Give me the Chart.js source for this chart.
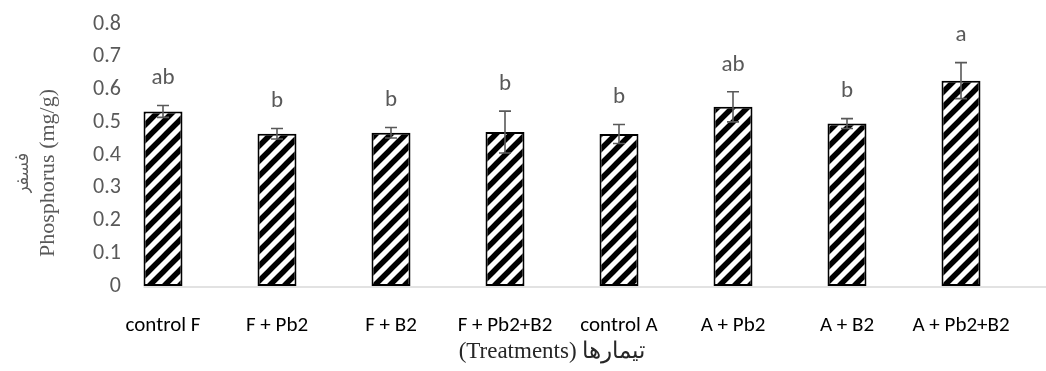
<!DOCTYPE html>
<html>
<head>
<meta charset="utf-8">
<script src="https://cdn.jsdelivr.net/npm/chart.js@4"></script>
<style>
html,body{margin:0;padding:0;background:#fff;}
#c{display:block;}
</style>
</head>
<body>
<canvas id="c" width="1046" height="371"></canvas>
<script>
const categories = ['control F', 'F + Pb2', 'F + B2', 'F + Pb2+B2', 'control A', 'A + Pb2', 'A + B2', 'A + Pb2+B2'];
const phosphorus = [0.533, 0.465, 0.468, 0.470, 0.464, 0.547, 0.496, 0.627];
const errors = [0.018, 0.016, 0.016, 0.064, 0.029, 0.046, 0.015, 0.055];
const letters = ['ab', 'b', 'b', 'b', 'b', 'ab', 'b', 'a'];
const yTickLabels = ['0', '0.1', '0.2', '0.3', '0.4', '0.5', '0.6', '0.7', '0.8'];
const yTitle = 'Phosphorus (mg/g)';
const yTitleFa = 'فسفر';
const xTitle = '(Treatments) تیمارها';

const SANS = 'Carlito, Calibri, Lato, sans-serif';
const SERIF = '"Liberation Serif", "Times New Roman", serif';

function makePattern() {
  const s = 15;
  const t = document.createElement('canvas');
  t.width = s; t.height = s;
  const g = t.getContext('2d');
  g.fillStyle = '#fff';
  g.fillRect(0, 0, s, s);
  g.strokeStyle = '#000';
  g.lineWidth = 5.5;
  g.lineCap = 'square';
  g.beginPath();
  g.moveTo(-s, 2 * s); g.lineTo(2 * s, -s);
  g.moveTo(-s, s); g.lineTo(s, -s);
  g.moveTo(0, 2 * s); g.lineTo(2 * s, 0);
  g.stroke();
  return document.getElementById('c').getContext('2d').createPattern(t, 'repeat');
}

const extras = {
  id: 'extras',
  afterDatasetsDraw(chart) {
    const ctx = chart.ctx;
    const ys = chart.scales.y;
    const meta = chart.getDatasetMeta(0);
    const area = chart.chartArea;
    ctx.save();
    // x axis line
    const first = meta.data[0];
    ctx.strokeStyle = '#d9d9d9';
    ctx.lineWidth = 1.5;
    ctx.beginPath();
    ctx.moveTo(first.x - first.width / 2, area.bottom + 1);
    ctx.lineTo(chart.width, area.bottom + 1);
    ctx.stroke();
    // error bars and letters
    meta.data.forEach((bar, i) => {
      const v = phosphorus[i], e = errors[i];
      const yTop = ys.getPixelForValue(v + e);
      const yBot = ys.getPixelForValue(v - e);
      ctx.strokeStyle = '#595959';
      ctx.lineWidth = 1.6;
      ctx.beginPath();
      ctx.moveTo(bar.x, yTop); ctx.lineTo(bar.x, yBot);
      ctx.moveTo(bar.x - 6, yTop); ctx.lineTo(bar.x + 6, yTop);
      ctx.moveTo(bar.x - 6, yBot); ctx.lineTo(bar.x + 6, yBot);
      ctx.stroke();
      ctx.fillStyle = '#595959';
      ctx.font = '23px ' + SANS;
      ctx.textAlign = 'center';
      ctx.textBaseline = 'middle';
      ctx.fillText(letters[i], bar.x, yTop - 27);
    });
    ctx.restore();
  },
  afterDraw(chart) {
    const ctx = chart.ctx;
    const area = chart.chartArea;
    ctx.save();
    ctx.textAlign = 'center';
    ctx.textBaseline = 'middle';
    // y titles
    const cy = (area.top + area.bottom) / 2 + 18;
    ctx.fillStyle = '#595959';
    ctx.translate(48, cy);
    ctx.rotate(-Math.PI / 2);
    ctx.font = '22px ' + SERIF;
    ctx.fillText(yTitle, 0, 0);
    ctx.font = '18px "Noto Sans Arabic", "DejaVu Sans", sans-serif';
    ctx.fillText(yTitleFa, 0, -23);
    ctx.restore();
    // x title
    ctx.save();
    ctx.direction = 'ltr';
    ctx.textAlign = 'center';
    ctx.textBaseline = 'middle';
    ctx.fillStyle = '#262626';
    ctx.font = '23px ' + SERIF;
    ctx.fillText(xTitle, (area.left + area.right) / 2 - 10, 352);
    ctx.restore();
  }
};

new Chart(document.getElementById('c'), {
  type: 'bar',
  data: {
    labels: categories,
    datasets: [{
      data: phosphorus,
      backgroundColor: makePattern(),
      borderColor: '#000',
      borderWidth: 2,
      borderSkipped: false,
      categoryPercentage: 1,
      barPercentage: 0.342
    }]
  },
  options: {
    responsive: false,
    devicePixelRatio: 1,
    animation: false,
    layout: { padding: { top: 24, right: 28, left: 0, bottom: 0 } },
    plugins: { legend: { display: false }, tooltip: { enabled: false } },
    scales: {
      y: {
        min: 0, max: 0.8,
        ticks: {
          stepSize: 0.1,
          color: '#595959',
          font: { family: SANS, size: 22 },
          mirror: true,
          crossAlign: 'far',
          padding: -13,
          callback: (val, idx) => yTickLabels[idx]
        },
        grid: { display: false, drawTicks: false },
        border: { display: false },
        afterFit: (s) => { s.width = 106; }
      },
      x: {
        ticks: {
          color: '#000',
          font: { family: SANS, size: 21 },
          padding: 27,
          maxRotation: 0,
          autoSkip: false
        },
        grid: { display: false, drawTicks: false },
        border: { display: false },
        afterFit: (s) => { s.height = 85; }
      }
    }
  },
  plugins: [extras]
});
</script>
</body>
</html>
